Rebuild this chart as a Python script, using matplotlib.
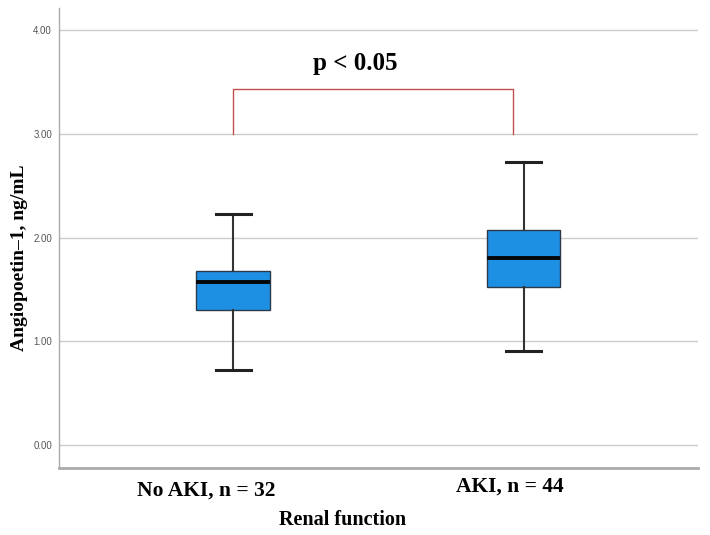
import matplotlib.pyplot as plt

# group labels and box statistics
groups = ["No AKI, n = 32", "AKI, n = 44"]
whislo = [0.725, 0.91]
q1 = [1.30, 1.52]
med = [1.575, 1.80]
q3 = [1.68, 2.07]
whishi = [2.23, 2.73]

yticks = [0, 1, 2, 3, 4]
ytick_labels = ["0.00", "1.00", "2.00", "3.00", "4.00"]

fig = plt.figure(figsize=(7.1, 5.35), dpi=100)
ax = fig.add_axes([0.083, 0.125, 0.9, 0.86])

stats = []
for i in range(len(groups)):
    stats.append({"whislo": whislo[i], "q1": q1[i], "med": med[i],
                  "q3": q3[i], "whishi": whishi[i], "fliers": []})

ax.bxp(stats, positions=range(len(groups)), widths=0.253, capwidths=0.12,
       patch_artist=True, showfliers=False,
       boxprops=dict(facecolor="#1e90e4", edgecolor="#2a3a4a", linewidth=1.0),
       medianprops=dict(color="#05070a", linewidth=2.8),
       whiskerprops=dict(color="#333333", linewidth=1.5),
       capprops=dict(color="#222222", linewidth=2.2))

ax.set_xlim(-0.6, 1.6)
ax.set_ylim(-0.22, 4.21)
ax.set_yticks(yticks)
ax.set_yticklabels(ytick_labels, fontsize=7, color="#555555",
                   family="Liberation Sans")
ax.tick_params(axis="y", length=0, pad=5)
ax.set_xticks([])
ax.yaxis.grid(True, color="#cccccc", linewidth=1.0)
ax.set_axisbelow(True)

for s in ["top", "right"]:
    ax.spines[s].set_visible(False)
ax.spines["left"].set_color("#aaaaaa")
ax.spines["left"].set_linewidth(1.0)
ax.spines["bottom"].set_color("#aaaaaa")
ax.spines["bottom"].set_linewidth(2.0)

# group labels under the axis
trans = ax.get_xaxis_transform()
ax.text(-0.093, -0.059, groups[0], transform=trans, ha="center", va="baseline",
        family="Liberation Serif", fontweight="bold", fontsize=15.5)
ax.text(0.952, -0.052, groups[1], transform=trans, ha="center", va="baseline",
        family="Liberation Serif", fontweight="bold", fontsize=15.5)
ax.text(0.377, -0.124, "Renal function", transform=trans, ha="center",
        va="baseline", family="Liberation Serif", fontweight="bold",
        fontsize=14.5)

fig.text(0.028, 0.518, "Angiopoetin\u20131, ng/mL", rotation=90,
         ha="center", va="center", family="Liberation Serif",
         fontweight="bold", fontsize=14)

# significance bracket
ax.plot([0, 0, 0.965, 0.965], [3.0, 3.43, 3.43, 3.0], color="#c0504d",
        linewidth=1.0)
ax.text(0.419, 3.61, "p < 0.05", ha="center", va="baseline",
        family="Liberation Serif", fontweight="bold", fontsize=18)

fig.savefig("out.png")
